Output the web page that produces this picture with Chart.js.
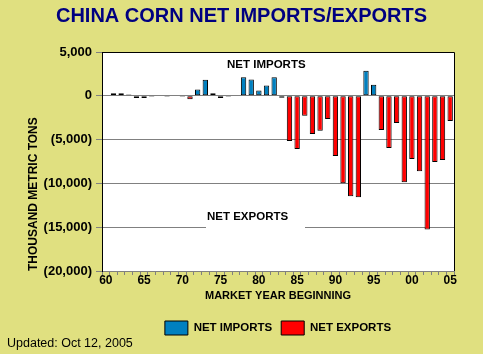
<!DOCTYPE html>
<html>
<head>
<meta charset="utf-8">
<script src="https://cdn.jsdelivr.net/npm/chart.js@4"></script>
<style>
  html, body { margin: 0; padding: 0; background: #E0E080; }
  #wrap { width: 483px; height: 354px; position: relative; }
  canvas { display: block; }
</style>
</head>
<body>
<div id="wrap"><canvas id="c" width="483" height="354"></canvas></div>
<script>
// Market years (1960 .. 2005)
const years = ['1960','1961','1962','1963','1964','1965','1966','1967','1968','1969',
               '1970','1971','1972','1973','1974','1975','1976','1977','1978','1979',
               '1980','1981','1982','1983','1984','1985','1986','1987','1988','1989',
               '1990','1991','1992','1993','1994','1995','1996','1997','1998','1999',
               '2000','2001','2002','2003','2004','2005'];
// Tick labels shown every 5 years
const yearTickLabels = ['60','65','70','75','80','85','90','95','00','05'];
// Thousand metric tons
const netImports = [null, 300, 300, 150, null, null, null, null, null, null,
                    null, null, 720, 1830, 300, null, null, null, 2130, 1870,
                    610, 1180, 2130, null, null, null, null, null, null, null,
                    null, null, null, null, 2870, 1260, null, null, null, null,
                    null, null, null, null, null, null];
const netExports = [null, null, null, null, -250, -250, -100, null, -100, null,
                    -100, -400, null, null, null, -250, -100, null, null, null,
                    null, null, null, -230, -5160, -6080, -2290, -4360, -3980, -2640,
                    -6880, -9980, -11470, -11580, null, null, -3900, -5960, -3100, -9860,
                    -7220, -8600, -15250, -7570, -7340, -2870];
const yTickValues = [5000, 0, -5000, -10000, -15000, -20000];

const FONT = '"Liberation Sans", Arial, Helvetica, sans-serif';

const decor = {
  id: 'decor',
  beforeDraw(chart) {
    const {ctx, chartArea: a} = chart;
    ctx.save();
    ctx.fillStyle = '#FFFFFF';
    ctx.fillRect(a.left, a.top, a.right - a.left, a.bottom - a.top);
    ctx.restore();
  },
  afterDatasetsDraw(chart) {
    const {ctx, chartArea: a, scales: {y}} = chart;
    ctx.save();
    // top & right frame
    ctx.strokeStyle = '#000000';
    ctx.lineWidth = 1;
    ctx.beginPath();
    ctx.moveTo(a.left, Math.round(a.top) + 0.5);
    ctx.lineTo(Math.round(a.right) + 0.5, Math.round(a.top) + 0.5);
    ctx.lineTo(Math.round(a.right) + 0.5, a.bottom);
    ctx.stroke();
    // in-plot labels
    ctx.font = 'bold 11.5px ' + FONT;
    ctx.textBaseline = 'middle';
    ctx.textAlign = 'left';
    const gy = y.getPixelForValue(-15000);
    ctx.fillStyle = '#FFFFFF';
    ctx.fillRect(a.left + 104, gy - 3, 99, 6);
    ctx.fillStyle = '#000000';
    ctx.fillText('NET EXPORTS', a.left + 105, y.getPixelForValue(-13850));
    ctx.fillText('NET IMPORTS', a.left + 125, y.getPixelForValue(3550));
    ctx.restore();
  },
  afterDraw(chart) {
    const {ctx} = chart;
    ctx.save();
    ctx.font = '12.5px ' + FONT;
    ctx.fillStyle = '#000000';
    ctx.textBaseline = 'middle';
    ctx.textAlign = 'left';
    ctx.fillText('Updated: Oct 12, 2005', 7, 344);
    ctx.restore();
  }
};

new Chart(document.getElementById('c'), {
  type: 'bar',
  data: {
    labels: years,
    datasets: [
      {
        label: 'NET IMPORTS',
        data: netImports,
        backgroundColor: '#0080C0',
        borderColor: '#000000',
        borderWidth: 1,
        borderSkipped: false,
        barPercentage: 0.7,
        categoryPercentage: 1.0
      },
      {
        label: 'NET EXPORTS',
        data: netExports,
        backgroundColor: '#FF0000',
        borderColor: '#000000',
        borderWidth: 1,
        borderSkipped: false,
        barPercentage: 0.7,
        categoryPercentage: 1.0
      }
    ]
  },
  options: {
    responsive: false,
    animation: false,
    devicePixelRatio: 1,
    layout: { padding: { left: 0, right: 0, top: 0, bottom: 9 } },
    plugins: {
      title: {
        display: true,
        text: 'CHINA CORN NET IMPORTS/EXPORTS',
        color: '#000080',
        font: { family: FONT, size: 20, weight: 'bold' },
        padding: { top: 4, bottom: 24 }
      },
      legend: {
        display: true,
        position: 'bottom',
        fullSize: false,
        labels: {
          boxWidth: 23,
          boxHeight: 14,
          padding: 9,
          color: '#000000',
          font: { family: FONT, size: 11.5, weight: 'bold' }
        }
      },
      tooltip: { enabled: false }
    },
    scales: {
      x: {
        stacked: true,
        afterFit(scale) { scale.height = 41; },
        grid: {
          drawOnChartArea: false,
          drawTicks: true,
          tickLength: 4,
          tickColor: '#808080',
          offset: true
        },
        border: { display: true, color: '#808080', width: 1 },
        ticks: {
          autoSkip: false,
          maxRotation: 0,
          minRotation: 0,
          padding: -2,
          color: '#000000',
          font: { family: FONT, size: 12, weight: 'bold' },
          callback: (v, i) => (i % 5 === 0 ? yearTickLabels[i / 5] : '')
        },
        title: {
          display: true,
          text: 'MARKET YEAR BEGINNING',
          color: '#000000',
          font: { family: FONT, size: 11, weight: 'bold' },
          padding: { top: 0, bottom: 9.4 }
        }
      },
      y: {
        stacked: true,
        min: -20000,
        max: 5000,
        afterFit(scale) { scale.width = 102; },
        afterBuildTicks(scale) { scale.ticks = yTickValues.map(v => ({ value: v })); },
        grid: {
          color: (ctx) => (ctx.tick && ctx.tick.value === 5000 ? 'rgba(0,0,0,0)' : '#808080'),
          tickColor: '#808080',
          tickLength: 6,
          lineWidth: 1
        },
        border: { display: true, color: '#000000', width: 1 },
        ticks: {
          padding: 4,
          color: '#000000',
          font: { family: FONT, size: 13, weight: 'bold' },
          callback: (v) => {
            const s = Math.abs(v).toLocaleString('en-US');
            return v < 0 ? '(' + s + ')' : s;
          }
        },
        title: {
          display: true,
          text: 'THOUSAND METRIC TONS',
          align: 'start',
          color: '#000000',
          font: { family: FONT, size: 12, weight: 'bold' },
          padding: { top: 26, bottom: 0 }
        }
      },
      yRight: {
        position: 'right',
        display: true,
        min: -20000,
        max: 5000,
        afterFit(scale) { scale.width = 29; },
        grid: { display: false, drawTicks: false },
        border: { display: false },
        ticks: { display: false }
      }
    }
  },
  plugins: [decor]
});
</script>
</body>
</html>
